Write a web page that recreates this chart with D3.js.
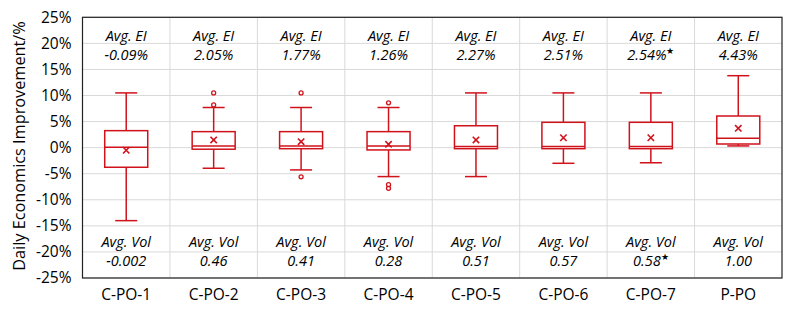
<!DOCTYPE html>
<html><head><meta charset="utf-8">
<script src="https://cdn.jsdelivr.net/npm/d3@7"></script>
<style>body{margin:0;background:#fff}svg{display:block}text{font-family:"Open Sans",sans-serif}</style>
</head><body><svg id="c" width="789" height="313"></svg>
<script>
const categories = ["C-PO-1","C-PO-2","C-PO-3","C-PO-4","C-PO-5","C-PO-6","C-PO-7","P-PO"];
const whiskerLow = [-14.0,-3.95,-4.27,-5.55,-5.55,-3.0,-2.9,0.33];
const q1 = [-3.76,-0.3,-0.2,-0.44,-0.2,-0.2,-0.2,0.7];
const median = [0.1,0.33,0.33,0.33,0.2,0.2,0.2,1.8];
const q3 = [3.26,3.07,3.07,3.07,4.2,4.86,4.86,6.07];
const whiskerHigh = [10.5,7.7,7.7,7.7,10.5,10.5,10.5,13.8];
const means = [-0.5,1.47,1.15,0.65,1.47,1.9,1.9,3.7];
const outliers = [[],[10.5,8.2],[10.5,-5.6],[8.6,-7.1,-7.8],[],[],[],[]];
const avgEI = ["-0.09%","2.05%","1.77%","1.26%","2.27%","2.51%","2.54%","4.43%"];
const avgVol = ["-0.002","0.46","0.41","0.28","0.51","0.57","0.58","1.00"];
const starred = [false,false,false,false,false,false,true,false];
const yTicks = [-25,-20,-15,-10,-5,0,5,10,15,20,25];

const svg = d3.select("#c");
const L=82.5, R=782, T=17.3, B=278;
const red = "#d0121b";
const x = d3.scaleBand().domain(categories).range([L,R]);
const y = d3.scaleLinear().domain([-25,25]).range([B,T]);

// grid
svg.append("g").selectAll("line").data(yTicks).join("line")
  .attr("x1",L).attr("x2",R).attr("y1",d=>y(d)).attr("y2",d=>y(d))
  .attr("stroke","#d9d9d9").attr("stroke-width",1);
svg.append("g").selectAll("line").data(categories.slice(1)).join("line")
  .attr("x1",d=>x(d)).attr("x2",d=>x(d)).attr("y1",T).attr("y2",B)
  .attr("stroke","#d9d9d9").attr("stroke-width",1);

// y axis
const ya = svg.append("g").attr("transform",`translate(${L},0)`)
  .call(d3.axisLeft(y).tickValues(yTicks).tickFormat(d=>d+"%").tickSize(0).tickPadding(11));
ya.select(".domain").remove();
ya.selectAll("text").attr("font-size",15.5).attr("fill","#000");

// x axis
const xa = svg.append("g").attr("transform",`translate(0,${B})`)
  .call(d3.axisBottom(x).tickSize(0).tickPadding(11));
xa.select(".domain").remove();
xa.selectAll("text").attr("font-size",15.5).attr("fill","#000");

// title
svg.append("text").attr("transform",`translate(25,146) rotate(-90)`)
  .attr("text-anchor","middle").attr("font-size",16.3).attr("fill","#000")
  .text("Daily Economics Improvement/%");

// boxes
const bw = 43;
const g = svg.append("g");
categories.forEach((c,i)=>{
  const cx = x(c)+x.bandwidth()/2;
  const gg = g.append("g").attr("stroke",red).attr("fill","none").attr("stroke-width",1.5);
  gg.append("line").attr("x1",cx).attr("x2",cx).attr("y1",y(whiskerHigh[i])).attr("y2",y(q3[i]));
  gg.append("line").attr("x1",cx).attr("x2",cx).attr("y1",y(q1[i])).attr("y2",y(whiskerLow[i]));
  gg.append("line").attr("x1",cx-11).attr("x2",cx+11).attr("y1",y(whiskerHigh[i])).attr("y2",y(whiskerHigh[i]));
  gg.append("line").attr("x1",cx-11).attr("x2",cx+11).attr("y1",y(whiskerLow[i])).attr("y2",y(whiskerLow[i]));
  gg.append("rect").attr("x",cx-bw/2).attr("width",bw).attr("y",y(q3[i])).attr("height",y(q1[i])-y(q3[i])).attr("fill","#fff");
  gg.append("line").attr("x1",cx-bw/2).attr("x2",cx+bw/2).attr("y1",y(median[i])).attr("y2",y(median[i]));
  const my = y(means[i]), s=3.2;
  gg.append("path").attr("d",`M${cx-s},${my-s}L${cx+s},${my+s}M${cx-s},${my+s}L${cx+s},${my-s}`).attr("stroke-width",1.6);
  outliers[i].forEach(o=>{
    gg.append("circle").attr("cx",cx).attr("cy",y(o)).attr("r",2).attr("stroke-width",1.3);
  });
  // labels
  const lab = svg.append("g").attr("font-style","italic").attr("font-size",14.5).attr("text-anchor","middle").attr("fill","#000");
  lab.append("text").attr("x",cx).attr("y",40.5).text("Avg. EI");
  const t1 = lab.append("text").attr("x",cx).attr("y",59.5).text(avgEI[i]);
  lab.append("text").attr("x",cx).attr("y",247).text("Avg. Vol");
  const t2 = lab.append("text").attr("x",cx).attr("y",266).text(avgVol[i]);
  if(starred[i]){
    t1.append("tspan").attr("font-size",9).attr("dy",-6).attr("font-style","normal").text("★");
    t2.append("tspan").attr("font-size",9).attr("dy",-6).attr("font-style","normal").text("★");
  }
});

// frame
svg.append("rect").attr("x",L).attr("y",T).attr("width",R-L).attr("height",B-T)
  .attr("fill","none").attr("stroke","#222").attr("stroke-width",1.2);
</script></body></html>
